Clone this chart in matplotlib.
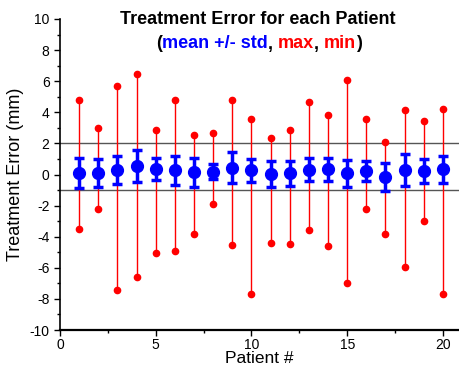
import matplotlib
matplotlib.use('Agg')
import matplotlib.pyplot as plt
from matplotlib.ticker import MultipleLocator

plt.rcParams['font.family'] = ['Liberation Sans', 'DejaVu Sans']
plt.rcParams['axes.unicode_minus'] = False

# per-patient treatment error (mm)
patients = list(range(1, 21))
means = [0.08, 0.08, 0.28, 0.56, 0.34, 0.26, 0.13, 0.17, 0.43, 0.27,
         0.02, 0.08, 0.32, 0.34, 0.08, 0.23, -0.17, 0.29, 0.23, 0.34]
stds = [0.96, 0.90, 0.91, 1.02, 0.70, 0.93, 0.91, 0.48, 1.00, 0.73,
        0.85, 0.79, 0.72, 0.74, 0.86, 0.64, 0.89, 1.01, 0.75, 0.87]
maxs = [4.76, 2.96, 5.66, 6.45, 2.83, 4.76, 2.53, 2.70, 4.76, 3.54,
        2.33, 2.87, 4.65, 3.81, 6.05, 3.56, 2.08, 4.16, 3.45, 4.20]
mins = [-3.49, -2.23, -7.40, -6.60, -5.04, -4.91, -3.84, -1.89, -4.52, -7.70,
        -4.39, -4.46, -3.56, -4.61, -6.99, -2.23, -3.84, -5.96, -3.02, -7.70]
limits = [2, -1]

fig = plt.figure(figsize=(4.59, 3.69), dpi=100)
ax = fig.add_axes([60 / 459, 1 - 330 / 369, 399 / 459, 311 / 369])

for y in limits:
    ax.axhline(y, color='#555555', lw=1, zorder=1)

ax.vlines(patients, mins, maxs, color='red', lw=1, zorder=2)
ax.plot(patients, maxs, 'o', color='red', ms=4.5, zorder=3)
ax.plot(patients, mins, 'o', color='red', ms=4.5, zorder=3)
ax.errorbar(patients, means, yerr=stds, fmt='o', color='blue', ms=8.5,
            elinewidth=2.5, capsize=3.5, capthick=2.5, zorder=4)

ax.set_xlim(0, 20.84)
ax.set_ylim(-10, 10)
ax.xaxis.set_major_locator(MultipleLocator(5))
ax.xaxis.set_minor_locator(MultipleLocator(2.5))
ax.yaxis.set_major_locator(MultipleLocator(2))
ax.yaxis.set_minor_locator(MultipleLocator(1))
ax.tick_params(which='major', direction='out', length=4, width=1, labelsize=10)
ax.tick_params(which='minor', direction='out', length=2.5, width=1)
ax.tick_params(axis='x', pad=2)
ax.spines['top'].set_visible(False)
ax.spines['right'].set_visible(False)
ax.spines['bottom'].set_linewidth(1.6)
ax.spines['left'].set_linewidth(1.2)
ax.set_xlabel('Patient #', fontsize=12.5, labelpad=-1)
ax.set_ylabel('Treatment Error (mm)', fontsize=13, labelpad=4)

fig.text(258 / 459, 1 - 20 / 369, 'Treatment Error for each Patient',
         ha='center', va='center', fontsize=13, fontweight='bold')

pieces = [('(', 'black'), ('mean +/- std', 'blue'), (', ', 'black'),
          ('max', 'red'), (', ', 'black'), ('min', 'red'), (')', 'black')]
prev = fig.text(156 / 459, 1 - 44 / 369, pieces[0][0], ha='left', va='center',
                fontsize=13, fontweight='bold', color=pieces[0][1])
for s, c in pieces[1:]:
    prev = ax.annotate(s, xy=(1, 0), xycoords=prev, ha='left', va='bottom',
                       fontsize=13, fontweight='bold', color=c)

fig.savefig('out.png', dpi=100)
